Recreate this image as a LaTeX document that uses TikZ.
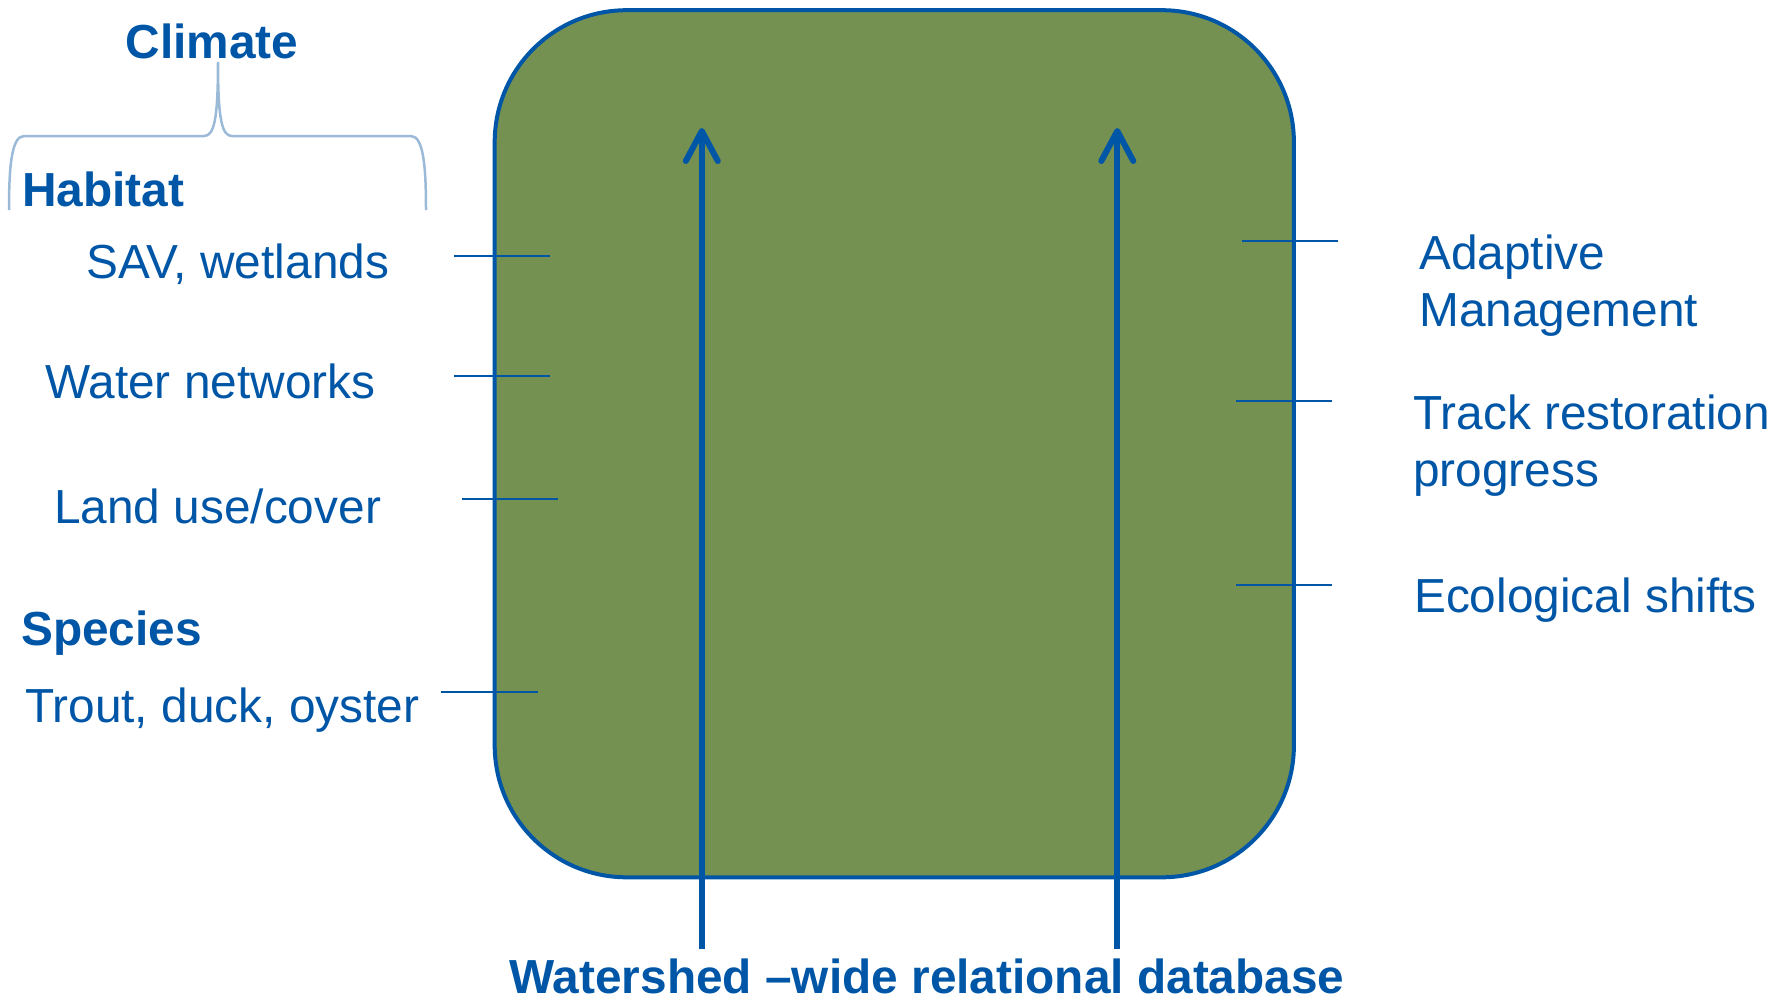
\documentclass[tikz,border=0pt]{standalone}
\usepackage{fontspec}
\setmainfont{Liberation Sans}
\usetikzlibrary{arrows.meta}
\definecolor{dbblue}{RGB}{0,86,166}
\definecolor{boxgreen}{RGB}{117,145,82}
\definecolor{bracecol}{RGB}{155,186,216}
\tikzset{
  lbl/.style={text=dbblue, inner sep=0pt, font=\fontsize{47.8}{57}\selectfont},
  head/.style={lbl, font=\fontsize{47.8}{57}\selectfont\bfseries},
  tick/.style={draw=dbblue, line width=2.5pt},
  flow/.style={draw=dbblue, line width=6pt,
    -{Straight Barb[length=30pt,width=32pt,round]}}
}
\begin{document}
\begin{tikzpicture}[x=1pt,y=-1pt]
\useasboundingbox (0,0) rectangle (1775,1004);

% central rounded block
\draw[fill=boxgreen, draw=dbblue, line width=4pt, rounded corners=132pt]
  (494.7,10.2) rectangle (1293.9,877.3);

% brace under the climate heading
\draw[bracecol, line width=2.5pt]
  (9,210) .. controls (9,170) and (11,136) .. (24,136) -- (204,136)
  .. controls (214,136) and (218,120) .. (218,62)
  .. controls (218,120) and (222,136) .. (232,136) -- (411,136)
  .. controls (424,136) and (426,170) .. (426,210);

% headings and items on the left
\node[head, anchor=base] (climate) at (212,58) {Climate};
\node[head, anchor=base west] (habitat) at (22,206) {Habitat};
\node[lbl, anchor=base west] (sav) at (86,278) {SAV, wetlands};
\node[lbl, anchor=base west] (water) at (45,398) {Water networks};
\node[lbl, anchor=base west] (land) at (54,523) {Land use/cover};
\node[head, anchor=base west] (species) at (21,645) {Species};
\node[lbl, anchor=base west] (trout) at (25,722) {Trout, duck, oyster};

% outcomes on the right (base anchor sits on the last line)
\node[lbl, anchor=base west, align=left] (adapt) at (1419,326) {Adaptive\\Management};
\node[lbl, anchor=base west, align=left] (track) at (1413,486) {Track restoration\\progress};
\node[lbl, anchor=base west] (eco) at (1414,612) {Ecological shifts};

% database label
\node[head, anchor=base] (db) at (927,993) {Watershed \textendash wide relational database};

% ticks crossing the block border
\coordinate (tSa) at (454,256); \coordinate (tSb) at (550,256);
\coordinate (tWa) at (454,376); \coordinate (tWb) at (550,376);
\coordinate (tLa) at (462,499); \coordinate (tLb) at (558,499);
\coordinate (tTa) at (441,692); \coordinate (tTb) at (538,692);
\coordinate (tAa) at (1242,241); \coordinate (tAb) at (1338,241);
\coordinate (tRa) at (1236,401); \coordinate (tRb) at (1332,401);
\coordinate (tEa) at (1236,585); \coordinate (tEb) at (1332,585);
\foreach \a/\b in {tSa/tSb,tWa/tWb,tLa/tLb,tTa/tTb,tAa/tAb,tRa/tRb,tEa/tEb}
  \draw[tick] (\a) -- (\b);

% arrows rising from the database
\coordinate (f1) at (701.8,949); \coordinate (t1) at (701.8,128);
\coordinate (f2) at (1117.3,949); \coordinate (t2) at (1117.3,128);
\draw[flow] (f1) -- (t1);
\draw[flow] (f2) -- (t2);
\end{tikzpicture}
\end{document}
